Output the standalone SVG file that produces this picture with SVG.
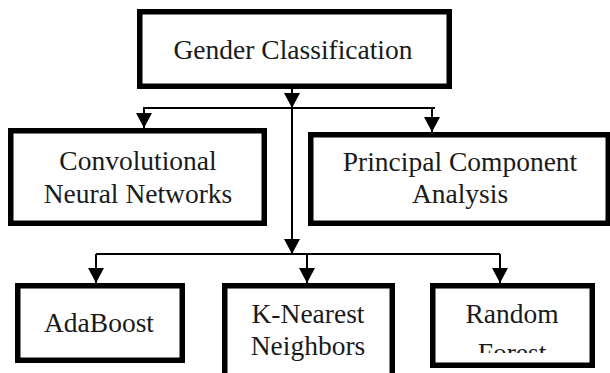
<svg xmlns="http://www.w3.org/2000/svg" width="610" height="373" viewBox="0 0 610 373">
<style>
.box{fill:#fff;stroke:#000;stroke-width:5.5}
.t{font-family:'Liberation Serif','Times New Roman',Times,serif;font-size:27.5px;fill:#1a1a1a;text-anchor:middle}
.c{fill:none;stroke:#000;stroke-width:2}
</style>
<defs>
<marker id="ah" markerUnits="userSpaceOnUse" markerWidth="15" markerHeight="16" viewBox="0 0 15 16" refX="15" refY="8" orient="auto">
<path d="M0,0 L15,8 L0,16 z" fill="#000"/>
</marker>
<clipPath id="rfclip"><rect x="430" y="283" width="170" height="70"/></clipPath>
</defs>
<rect width="610" height="373" fill="#fff"/>
<g id="connectors">
<path class="c" d="M292,89 V108" marker-end="url(#ah)"/>
<path class="c" d="M143,108 H435"/>
<path class="c" d="M144,108 V128" marker-end="url(#ah)"/>
<path class="c" d="M432,108 V132" marker-end="url(#ah)"/>
<path class="c" d="M292,108 V254" marker-end="url(#ah)"/>
<path class="c" d="M96,254 H500"/>
<path class="c" d="M96,254 V283" marker-end="url(#ah)"/>
<path class="c" d="M307,254 V283" marker-end="url(#ah)"/>
<path class="c" d="M500,254 V283" marker-end="url(#ah)"/>
</g>
<g id="gender">
<rect class="box" x="139.75" y="11.75" width="309.5" height="74.5"/>
<text class="t" font-family="Liberation Serif, serif" x="293" y="59">Gender Classification</text>
</g>
<g id="cnn">
<rect class="box" x="10.75" y="130.75" width="253.5" height="92.5"/>
<text class="t" font-family="Liberation Serif, serif" x="138" y="170">Convolutional</text>
<text class="t" font-family="Liberation Serif, serif" x="138" y="203">Neural Networks</text>
</g>
<g id="pca">
<rect class="box" x="310.75" y="134.75" width="297.5" height="88.5"/>
<text class="t" font-family="Liberation Serif, serif" x="460" y="171">Principal Component</text>
<text class="t" font-family="Liberation Serif, serif" x="460" y="203">Analysis</text>
</g>
<g id="adaboost">
<rect class="box" x="17.75" y="285.75" width="164.5" height="74.5"/>
<text class="t" font-family="Liberation Serif, serif" x="99" y="332">AdaBoost</text>
</g>
<g id="knn">
<rect class="box" x="224.75" y="285.75" width="167.5" height="95"/>
<text class="t" font-family="Liberation Serif, serif" x="308" y="323">K-Nearest</text>
<text class="t" font-family="Liberation Serif, serif" x="308" y="355">Neighbors</text>
</g>
<g id="rf">
<rect class="box" x="432.75" y="285.75" width="159.5" height="79.5"/>
<text class="t" font-family="Liberation Serif, serif" x="512" y="323">Random</text>
<text class="t" font-family="Liberation Serif, serif" x="512" y="362" clip-path="url(#rfclip)">Forest</text>
</g>
</svg>
